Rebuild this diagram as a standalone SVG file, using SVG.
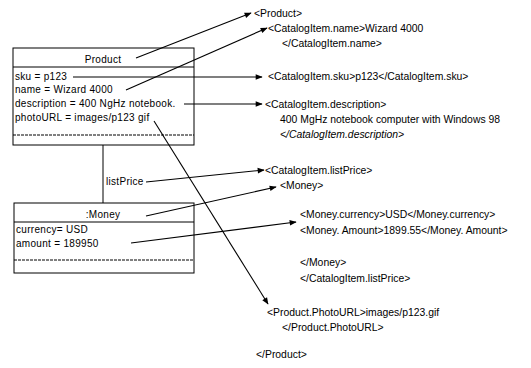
<svg xmlns="http://www.w3.org/2000/svg" width="531" height="368" viewBox="0 0 531 368">
<style>
.bx{fill:#fff;stroke:#000;stroke-width:1}
.ln{stroke:#000;stroke-width:1;fill:none}
.ds{stroke:#000;stroke-width:1;stroke-dasharray:3 1}
.t{font-family:"Liberation Sans",Arial,sans-serif;font-size:10px;letter-spacing:0.3px;fill:#000}
.r{font-family:"Liberation Sans",Arial,sans-serif;font-size:10.4px;fill:#000}
.c{text-anchor:middle}
.i{font-style:italic}
.ar{stroke:#000;stroke-width:1.1;fill:none;marker-end:url(#ah)}
</style>
<defs>
<marker id="ah" viewBox="0 0 10 10" refX="9" refY="5" markerWidth="8" markerHeight="7" markerUnits="userSpaceOnUse" orient="auto">
<path d="M0,1 L10,5 L0,9 z" fill="#000"/>
</marker>
</defs>
<rect width="531" height="368" fill="#fff"/>
<g id="product">
<rect class="bx" x="13" y="48" width="181" height="97"/>
<line class="ln" x1="13" y1="67" x2="194" y2="67"/>
<line class="ds" x1="13" y1="135" x2="194" y2="135"/>
<text class="t c" x="103" y="63">Product</text>
<text class="t" x="15" y="80">sku = p123</text>
<text class="t" x="15" y="93">name = Wizard 4000</text>
<text class="t" x="15" y="107">description = 400 NgHz notebook.</text>
<text class="t" x="15" y="121">photoURL = images/p123 gif</text>
</g>
<g id="money">
<rect class="bx" x="14" y="203" width="180" height="70"/>
<line class="ln" x1="14" y1="222" x2="194" y2="222"/>
<line class="ds" x1="14" y1="260" x2="194" y2="260"/>
<text class="t c" x="103" y="218">:Money</text>
<text class="t" x="16" y="233">currency= USD</text>
<text class="t" x="16" y="247">amount = 189950</text>
</g>
<g id="xml">
<text class="r" x="254" y="17">&lt;Product&gt;</text>
<text class="r" x="268" y="32">&lt;CatalogItem.name&gt;Wizard 4000</text>
<text class="r" x="282" y="47">&lt;/CatalogItem.name&gt;</text>
<text class="r" x="268" y="80">&lt;CatalogItem.sku&gt;p123&lt;/CatalogItem.sku&gt;</text>
<text class="r" x="265" y="108">&lt;CatalogItem.description&gt;</text>
<text class="r" x="280" y="123">400 MgHz notebook computer with Windows 98</text>
<text class="r i" x="280" y="138">&lt;/CatalogItem.description&gt;</text>
<text class="r" x="265" y="174">&lt;CatalogItem.listPrice&gt;</text>
<text class="r" x="280" y="189">&lt;Money&gt;</text>
<text class="r" x="300" y="218">&lt;Money.currency&gt;USD&lt;/Money.currency&gt;</text>
<text class="r" x="300" y="234">&lt;Money. Amount&gt;1899.55&lt;/Money. Amount&gt;</text>
<text class="r" x="300" y="266">&lt;/Money&gt;</text>
<text class="r" x="300" y="282">&lt;/CatalogItem.listPrice&gt;</text>
<text class="r" x="267" y="316">&lt;Product.PhotoURL&gt;images/p123.gif</text>
<text class="r" x="282" y="331">&lt;/Product.PhotoURL&gt;</text>
<text class="r" x="256" y="358">&lt;/Product&gt;</text>
</g>
<g id="connectors">
<line class="ln" x1="103" y1="145" x2="103" y2="203"/>
<text class="t" x="106" y="185">listPrice</text>
<line class="ar" x1="136" y1="58" x2="251" y2="13"/>
<line class="ar" x1="126" y1="90" x2="267" y2="28"/>
<line class="ar" x1="73" y1="77" x2="262" y2="77"/>
<line class="ar" x1="184" y1="104" x2="262" y2="104"/>
<line class="ar" x1="154" y1="121" x2="268" y2="304"/>
<line class="ar" x1="146" y1="182" x2="264" y2="170"/>
<line class="ar" x1="146" y1="216" x2="276" y2="187"/>
<line class="ar" x1="131" y1="243" x2="296" y2="222"/>
</g>
</svg>
